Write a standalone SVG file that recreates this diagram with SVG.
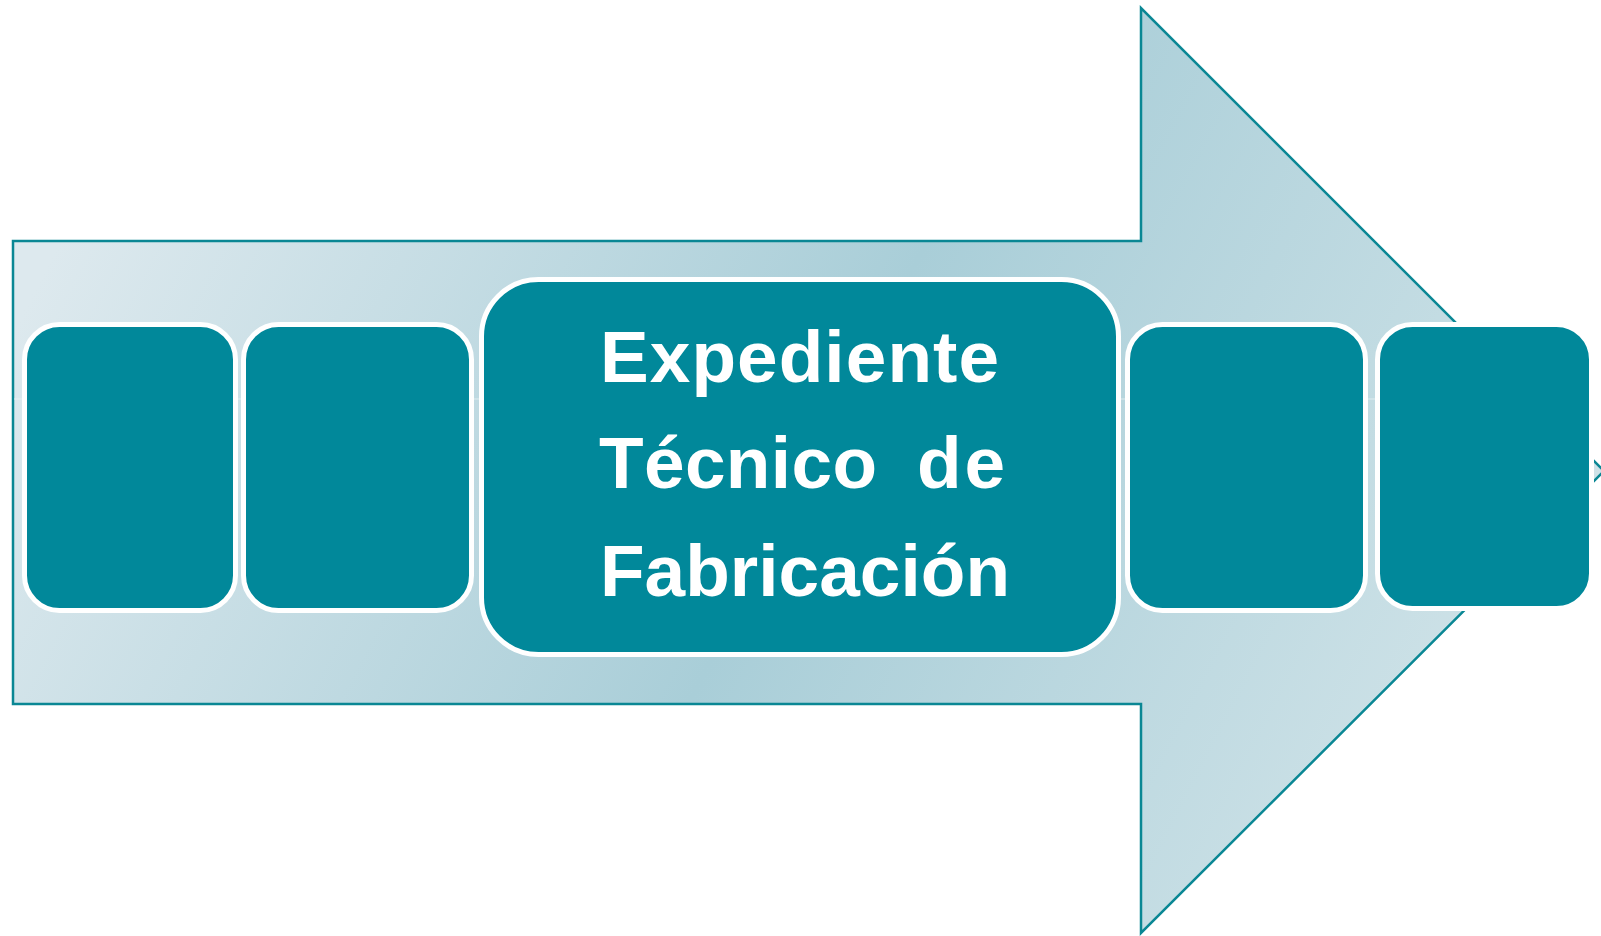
<svg xmlns="http://www.w3.org/2000/svg" width="1601" height="936" viewBox="0 0 1601 936">
  <defs>
    <linearGradient id="arrowFill" x1="0" y1="0.35" x2="1" y2="0.65">
      <stop offset="0" stop-color="#dde9ee"/>
      <stop offset="0.5" stop-color="#a9ced8"/>
      <stop offset="1" stop-color="#d2e4e9"/>
    </linearGradient>
    <style>
      .box { fill: #01889a; stroke: #ffffff; stroke-width: 5; }
      .lbl { font-family: "Liberation Sans", Arial, sans-serif; font-weight: bold; font-size: 73px; fill: #ffffff; }
      .conn { stroke: #eef5f7; stroke-width: 1; stroke-opacity: 0.7; fill: none; }
    </style>
  </defs>
  <rect width="1601" height="936" fill="#ffffff"/>
  <g id="arrow">
    <polygon points="13,241 1141,241 1141,8 1604,471 1141,933 1141,704 13,704" fill="url(#arrowFill)" stroke="#0a8794" stroke-width="2.5" stroke-linejoin="miter"/>
  </g>
  <g id="connectors">
    <line class="conn" x1="14" y1="399" x2="1589" y2="399"/>
  </g>
  <g id="node1">
    <rect class="box" x="24.5" y="324.5" width="211" height="286" rx="35" ry="35"/>
  </g>
  <g id="node2">
    <rect class="box" x="243.5" y="324.5" width="228" height="286" rx="35" ry="35"/>
  </g>
  <g id="node3">
    <rect class="box" x="481.5" y="279.5" width="637" height="375" rx="57" ry="57"/>
    <text class="lbl" x="600" y="382" textLength="399" lengthAdjust="spacing">Expediente</text>
    <text class="lbl" x="599" y="488" textLength="278" lengthAdjust="spacing">Técnico</text>
    <text class="lbl" x="917" y="488" textLength="88" lengthAdjust="spacing">de</text>
    <text class="lbl" x="600" y="596" textLength="410" lengthAdjust="spacing">Fabricación</text>
  </g>
  <g id="node4">
    <rect class="box" x="1127.5" y="324.5" width="238" height="286" rx="35" ry="35"/>
  </g>
  <g id="node5">
    <rect class="box" x="1377.5" y="324.5" width="214" height="284" rx="35" ry="35"/>
  </g>
</svg>
